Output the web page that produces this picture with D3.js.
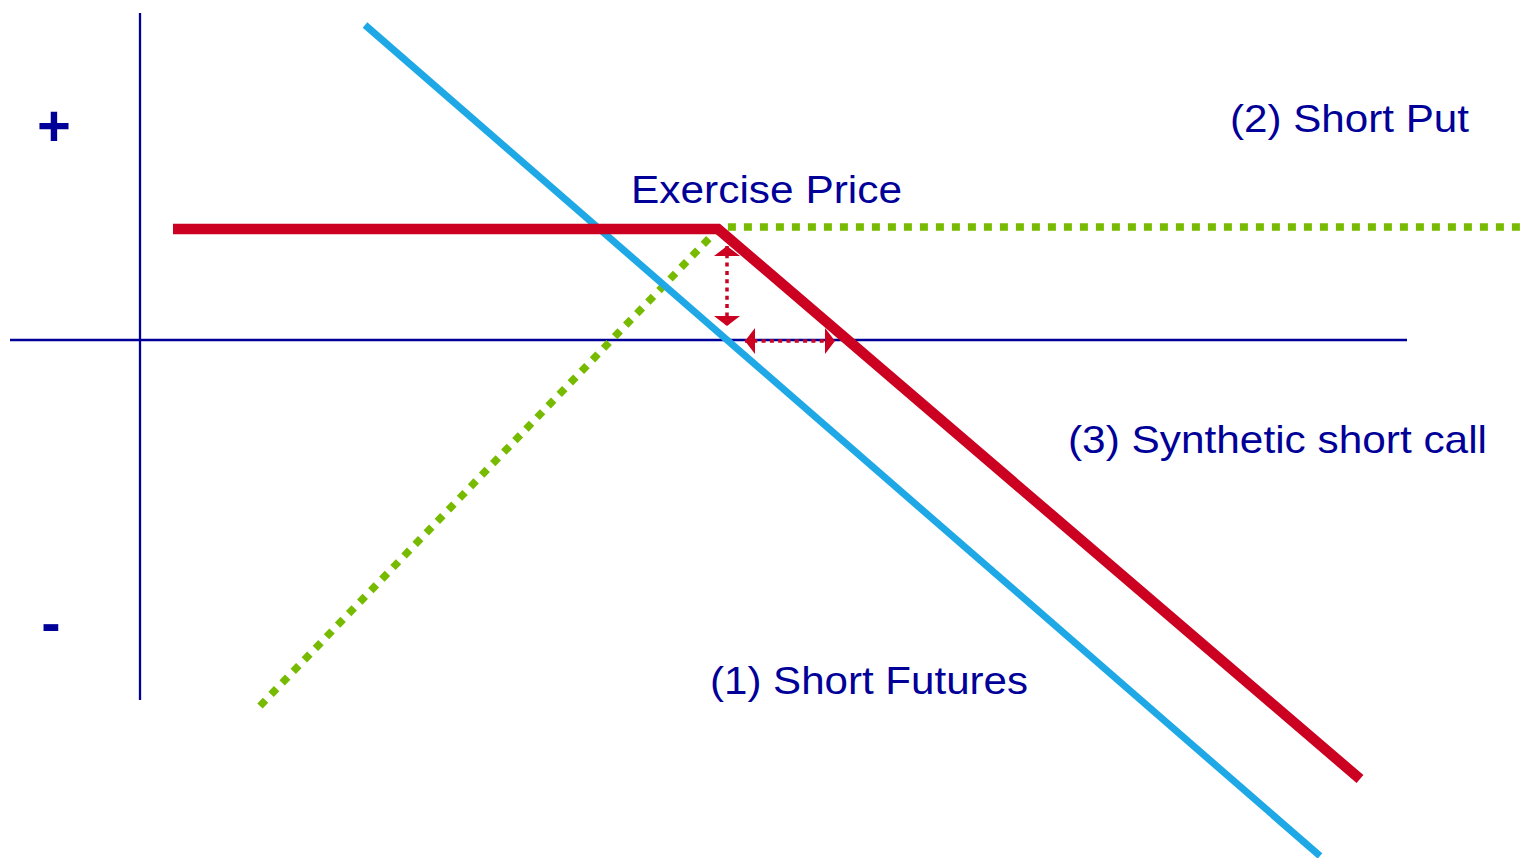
<!DOCTYPE html>
<html>
<head>
<meta charset="utf-8">
<script src="https://cdn.jsdelivr.net/npm/d3@7"></script>
<style>
  html, body { margin: 0; padding: 0; background: #ffffff; }
  svg { display: block; }
  text { font-family: "Liberation Sans", Arial, Helvetica, sans-serif; }
</style>
</head>
<body>
<div id="chart"></div>
<script>
// ---- data (price units on x, payoff units on y) ----
const shortFutures = [[22.5, 31.5], [118.0, -51.6]];              // (1) blue
const shortPut     = [[3.3, 11.1], [57.8, 11.1], [122.0, -43.9]];  // (2) red
const syntheticShortCall = [[12.0, -36.6], [58.0, 11.3], [138.3, 11.3]]; // (3) green dotted
const xAxisSpan = [-13, 126.7];
const yAxisSpan = [32.7, -36];
const premiumArrow = [[58.7, 9.4], [58.7, 1.4]];
const shiftArrow   = [[60.5, -0.1], [69.5, -0.1]];
const labelTexts = ["Exercise Price", "(2) Short Put", "(3) Synthetic short call", "(1) Short Futures"];
const signTexts = ["+", "-"];

// ---- layout ----
const W = 1523, H = 858;
const x = d3.scaleLinear().domain([0, 100]).range([140, 1140]);
const y = d3.scaleLinear().domain([0, 10]).range([340, 240]);

const labelPos = [
  {x: 49.1, y: 13.7, w: 271},
  {x: 109.0, y: 20.8, w: 239},
  {x: 92.8, y: -11.3, w: 419},
  {x: 57.0, y: -35.4, w: 318}
];
const signPos = [{x: -8.6, y: 19.4}, {x: -8.9, y: -30.3}];

const navy = "#000099", blue = "#1EA8E6", red = "#CC0020", green = "#77BB00";

const svg = d3.select("#chart").append("svg").attr("width", W).attr("height", H);
const defs = svg.append("defs");
defs.append("marker")
  .attr("id", "tri").attr("viewBox", "0 0 10 26")
  .attr("refX", 10).attr("refY", 13)
  .attr("markerUnits", "userSpaceOnUse")
  .attr("markerWidth", 10).attr("markerHeight", 26)
  .attr("orient", "auto-start-reverse")
  .append("path").attr("d", "M0,0 L10,13 L0,26 Z").attr("fill", red);

const line = d3.line().x(d => x(d[0])).y(d => y(d[1]));

// axes
svg.append("line")
  .attr("x1", x(xAxisSpan[0])).attr("x2", x(xAxisSpan[1]))
  .attr("y1", y(0)).attr("y2", y(0))
  .attr("stroke", navy).attr("stroke-width", 2.3);
svg.append("line")
  .attr("x1", x(0)).attr("x2", x(0))
  .attr("y1", y(yAxisSpan[0])).attr("y2", y(yAxisSpan[1]))
  .attr("stroke", navy).attr("stroke-width", 2.3);

// green dotted synthetic short call
svg.append("path").datum(syntheticShortCall)
  .attr("d", line).attr("fill", "none")
  .attr("stroke", green).attr("stroke-width", 7.5)
  .attr("stroke-dasharray", "8 8").attr("stroke-linejoin", "miter");

// blue short futures
svg.append("path").datum(shortFutures)
  .attr("d", line).attr("fill", "none")
  .attr("stroke", blue).attr("stroke-width", 7);

// red short put
svg.append("path").datum(shortPut)
  .attr("d", line).attr("fill", "none")
  .attr("stroke", red).attr("stroke-width", 10.5).attr("stroke-linejoin", "miter");

// arrows
[premiumArrow, shiftArrow].forEach(a => {
  svg.append("path").datum(a)
    .attr("d", line).attr("fill", "none")
    .attr("stroke", red).attr("stroke-width", 3.5)
    .attr("stroke-dasharray", "4 4.3")
    .attr("marker-start", "url(#tri)").attr("marker-end", "url(#tri)");
});

// labels
labelTexts.forEach((t, i) => {
  const p = labelPos[i];
  svg.append("text")
    .attr("x", x(p.x)).attr("y", y(p.y))
    .attr("font-size", 39).attr("fill", navy)
    .attr("textLength", p.w).attr("lengthAdjust", "spacingAndGlyphs")
    .text(t);
});

signTexts.forEach((t, i) => {
  const p = signPos[i];
  svg.append("text")
    .attr("x", x(p.x)).attr("y", y(p.y))
    .attr("text-anchor", "middle")
    .attr("font-size", 58).attr("font-weight", "bold").attr("fill", navy)
    .text(t);
});
</script>
</body>
</html>
